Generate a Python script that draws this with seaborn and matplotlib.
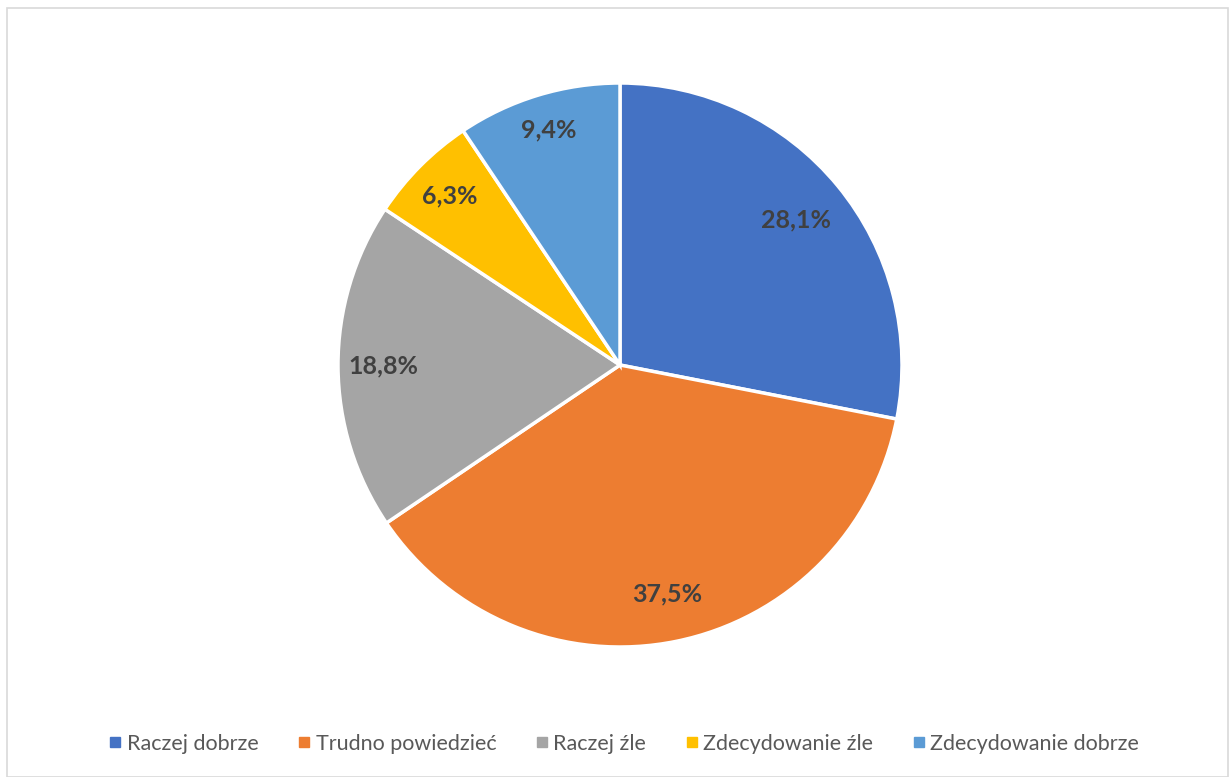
import numpy as np
import matplotlib.pyplot as plt
import seaborn as sns
from matplotlib.patches import Rectangle
from matplotlib.lines import Line2D

categories = ['Raczej dobrze', 'Trudno powiedzieć', 'Raczej źle',
              'Zdecydowanie źle', 'Zdecydowanie dobrze']
values = [28.1, 37.5, 18.8, 6.3, 9.4]
labels = ['28,1%', '37,5%', '18,8%', '6,3%', '9,4%']
label_dist = [0.81, 0.83, 0.84, 0.85, 0.87]
colors = ['#4472C4', '#ED7D31', '#A5A5A5', '#FFC000', '#5B9BD5']

sns.set_theme(style='white')
plt.rcParams['font.family'] = ['Lato', 'DejaVu Sans']

fig = plt.figure(figsize=(12.31, 7.77), dpi=100)
# ramka wykresu
fig.patches.append(Rectangle((7 / 1231, 0), 1221 / 1231, 769 / 777,
                             transform=fig.transFigure, fill=False,
                             edgecolor='#D9D9D9', linewidth=1.2))

ax = fig.add_axes([338 / 1231, 130 / 777, 564 / 1231, 564 / 777])
wedges, _ = ax.pie(values, colors=colors, startangle=90, counterclock=False,
                   wedgeprops=dict(edgecolor='white', linewidth=2.5))
ax.set_xlim(-1, 1)
ax.set_ylim(-1, 1)
ax.set_aspect('equal')

# etykiety procentowe
total = sum(values)
start = 90.0
for v, lab, d in zip(values, labels, label_dist):
    mid = np.deg2rad(start - v / total * 360 / 2)
    start -= v / total * 360
    ax.text(d * np.cos(mid), d * np.sin(mid), lab, ha='center', va='center',
            fontsize=18, fontweight='bold', color='#404040')

handles = [Line2D([0], [0], marker='s', linestyle='', markersize=7.5,
                  markerfacecolor=c, markeredgecolor=c) for c in colors]
fig.legend(handles, categories, loc='center', bbox_to_anchor=(0.506, 0.043),
           ncol=5, frameon=False, fontsize=15.5, handletextpad=0.15,
           columnspacing=1.7, labelcolor='#595959', handlelength=0.8)

fig.savefig('out.png', dpi=100)
